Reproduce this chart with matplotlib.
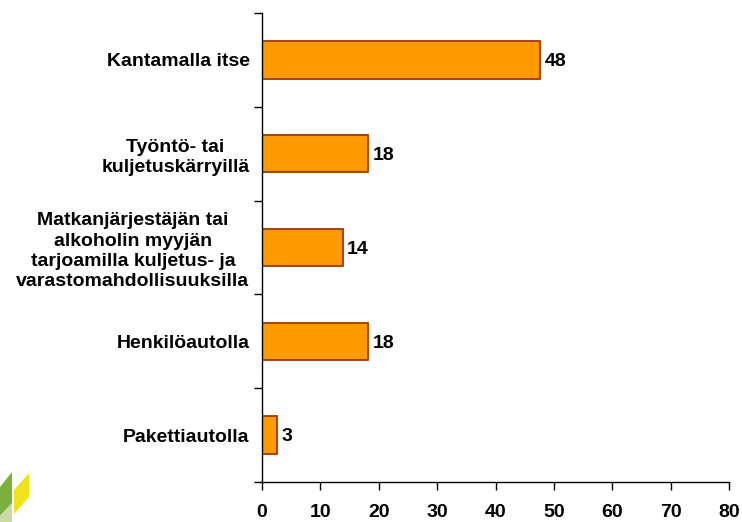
import matplotlib.pyplot as plt
from matplotlib.patches import Polygon

categories = ['Kantamalla itse',
              'Työntö- tai\nkuljetuskärryillä',
              'Matkanjärjestäjän tai\nalkoholin myyjän\ntarjoamilla kuljetus- ja\nvarastomahdollisuuksilla',
              'Henkilöautolla',
              'Pakettiautolla']
values = [47.6, 18.1, 13.8, 18.2, 2.6]
labels = ['48', '18', '14', '18', '3']
xticks = [0, 10, 20, 30, 40, 50, 60, 70, 80]

plt.rcParams['font.family'] = ['Liberation Sans', 'DejaVu Sans']
plt.rcParams['font.weight'] = 'bold'

fig = plt.figure(figsize=(7.42, 5.22), dpi=100)
ax = fig.add_axes([0.3531, 0.0766, 0.6294, 0.8985])

pos = list(range(len(categories)))
ax.barh(pos, values, height=0.4, color='#FF9900', edgecolor='#A0360A', linewidth=1.3)
for p, v, lab in zip(pos, values, labels):
    ax.text(v + 0.8, p + 0.02, lab, va='center', ha='left', fontsize=14, fontweight='bold')

ax.set_ylim(len(categories) - 0.5, -0.5)
ax.set_xlim(0, 80)
ax.set_xticks(xticks)
ax.set_xticklabels([str(t) for t in xticks], fontsize=14, fontweight='bold')
ax.set_yticks([i - 0.5 for i in range(len(categories) + 1)])
ax.set_yticklabels([])
ax.set_yticks(pos, minor=True)
ax.set_yticklabels(categories, minor=True, fontsize=14, fontweight='bold',
                   multialignment='center', linespacing=1.25)
ax.tick_params(axis='y', which='minor', length=0, pad=9)
ax.tick_params(axis='y', which='major', length=6, width=1, direction='out')
ax.tick_params(axis='x', length=6, width=1, direction='out', pad=10)
for s in ['top', 'right']:
    ax.spines[s].set_visible(False)
ax.spines['left'].set_linewidth(1)
ax.spines['bottom'].set_linewidth(1)

# logo fragment in corner (pixel coordinates)
fig.patches.append(Polygon([[0, 35], [12, 50], [12, 19], [0, 6]], closed=True,
                           transform=None, facecolor='#7DB03A', edgecolor='none'))
fig.patches.append(Polygon([[0, 6], [12, 19], [12, 0], [0, 0]], closed=True,
                           transform=None, facecolor='#C9D9A4', edgecolor='none'))
fig.patches.append(Polygon([[14, 32], [29, 49], [29, 25], [14, 8]], closed=True,
                           transform=None, facecolor='#F0E31C', edgecolor='none'))

fig.savefig('out.png', dpi=100)
